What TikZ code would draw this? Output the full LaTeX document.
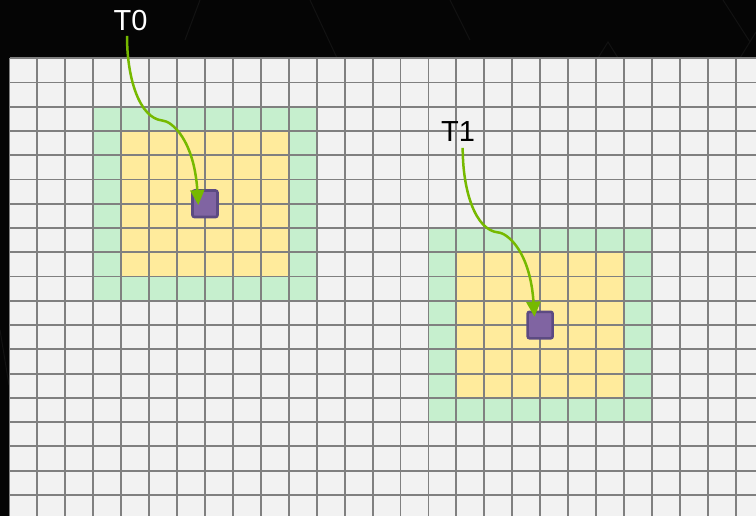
\documentclass[tikz,border=0pt]{standalone}
\usepackage{fontspec}
\setmainfont{Liberation Sans}
\usetikzlibrary{arrows.meta}
\definecolor{bgblack}{HTML}{050505}
\definecolor{faintline}{HTML}{121212}
\definecolor{cellgray}{HTML}{F2F2F2}
\definecolor{linegray}{HTML}{808080}
\definecolor{halogreen}{HTML}{C6EFCE}
\definecolor{coreyellow}{HTML}{FFEB9C}
\definecolor{purplefill}{HTML}{8064A2}
\definecolor{purpleedge}{HTML}{5C4A82}
\definecolor{flowgreen}{HTML}{76B900}
\tikzset{
  faint/.style={draw=faintline, line width=1pt},
  gridline/.style={draw=linegray, line width=1.9pt},
  halo/.style={fill=halogreen},
  core/.style={fill=coreyellow},
  target/.style={draw=purpleedge, fill=purplefill, line width=2.6pt, rounded corners=2pt,
    minimum width=25pt, minimum height=26.5pt, inner sep=0pt},
  label/.style={inner sep=0pt, font=\fontsize{29}{30}\selectfont},
  flow/.style={draw=flowgreen, line width=2.5pt, -{Triangle[width=14pt,length=15pt]}}
}
\begin{document}
\begin{tikzpicture}[x=1pt,y=-1pt]
\useasboundingbox (0,0) rectangle (756,516);
\clip (0,0) rectangle (756,516);
\fill[bgblack] (0,0) rectangle (756,516);
% faint background pattern
\draw[faint] (598,58) -- (608,42) -- (618,58);
\draw[faint] (723,0) -- (750,42);
\draw[faint] (740,58) -- (756,32);
\draw[faint] (310,0) -- (337,58);
\draw[faint] (450,0) -- (470,40);
\draw[faint] (200,0) -- (185,40);
\draw[faint] (0,330) -- (9,385);
% grid in cell units
\begin{scope}[shift={(9.5,58.3)}, x=27.93pt, y=-24.25pt]
  \fill[cellgray] (0,0) rectangle (28,20);
  \fill[halo] (3,2) rectangle (11,10);
  \fill[core] (4,3) rectangle (10,9);
  \fill[halo] (15,7) rectangle (23,15);
  \fill[core] (16,8) rectangle (22,14);
  \foreach \i in {0,...,27} \draw[gridline] (\i,0) -- (\i,20);
  \foreach \j in {0,...,19} \draw[gridline] (0,\j) -- (28,\j);
  \node[target] (p0) at (7,6) {};
  \node[target] (p1) at (19,11) {};
\end{scope}
% labels
\node[label, text=white] (t0) at (130.5,20.5) {T0};
\node[label, text=black] (t1) at (458,132) {T1};
% connectors
\coordinate (s0) at ([xshift=-3.5pt,yshift=-5pt]t0.south);
\coordinate (m0) at ([shift={(35,84.5)}]s0);
\coordinate (e0) at ([xshift=-6.7pt,yshift=-1.2pt]p0.center);
\draw[flow] (s0) .. controls +(0,44) and +(-22,-2.5) .. (m0)
  .. controls +(10,0.5) and +(-4.3,-65) .. (e0);
\coordinate (s1) at ([xshift=4.7pt,yshift=-5.7pt]t1.south);
\coordinate (m1) at ([shift={(35,84.5)}]s1);
\coordinate (e1) at ([xshift=-5.7pt,yshift=8.3pt]p1.center);
\draw[flow] (s1) .. controls +(0,44) and +(-22,-2.5) .. (m1)
  .. controls +(10,0.5) and +(-4.3,-65) .. (e1);
\end{tikzpicture}
\end{document}
